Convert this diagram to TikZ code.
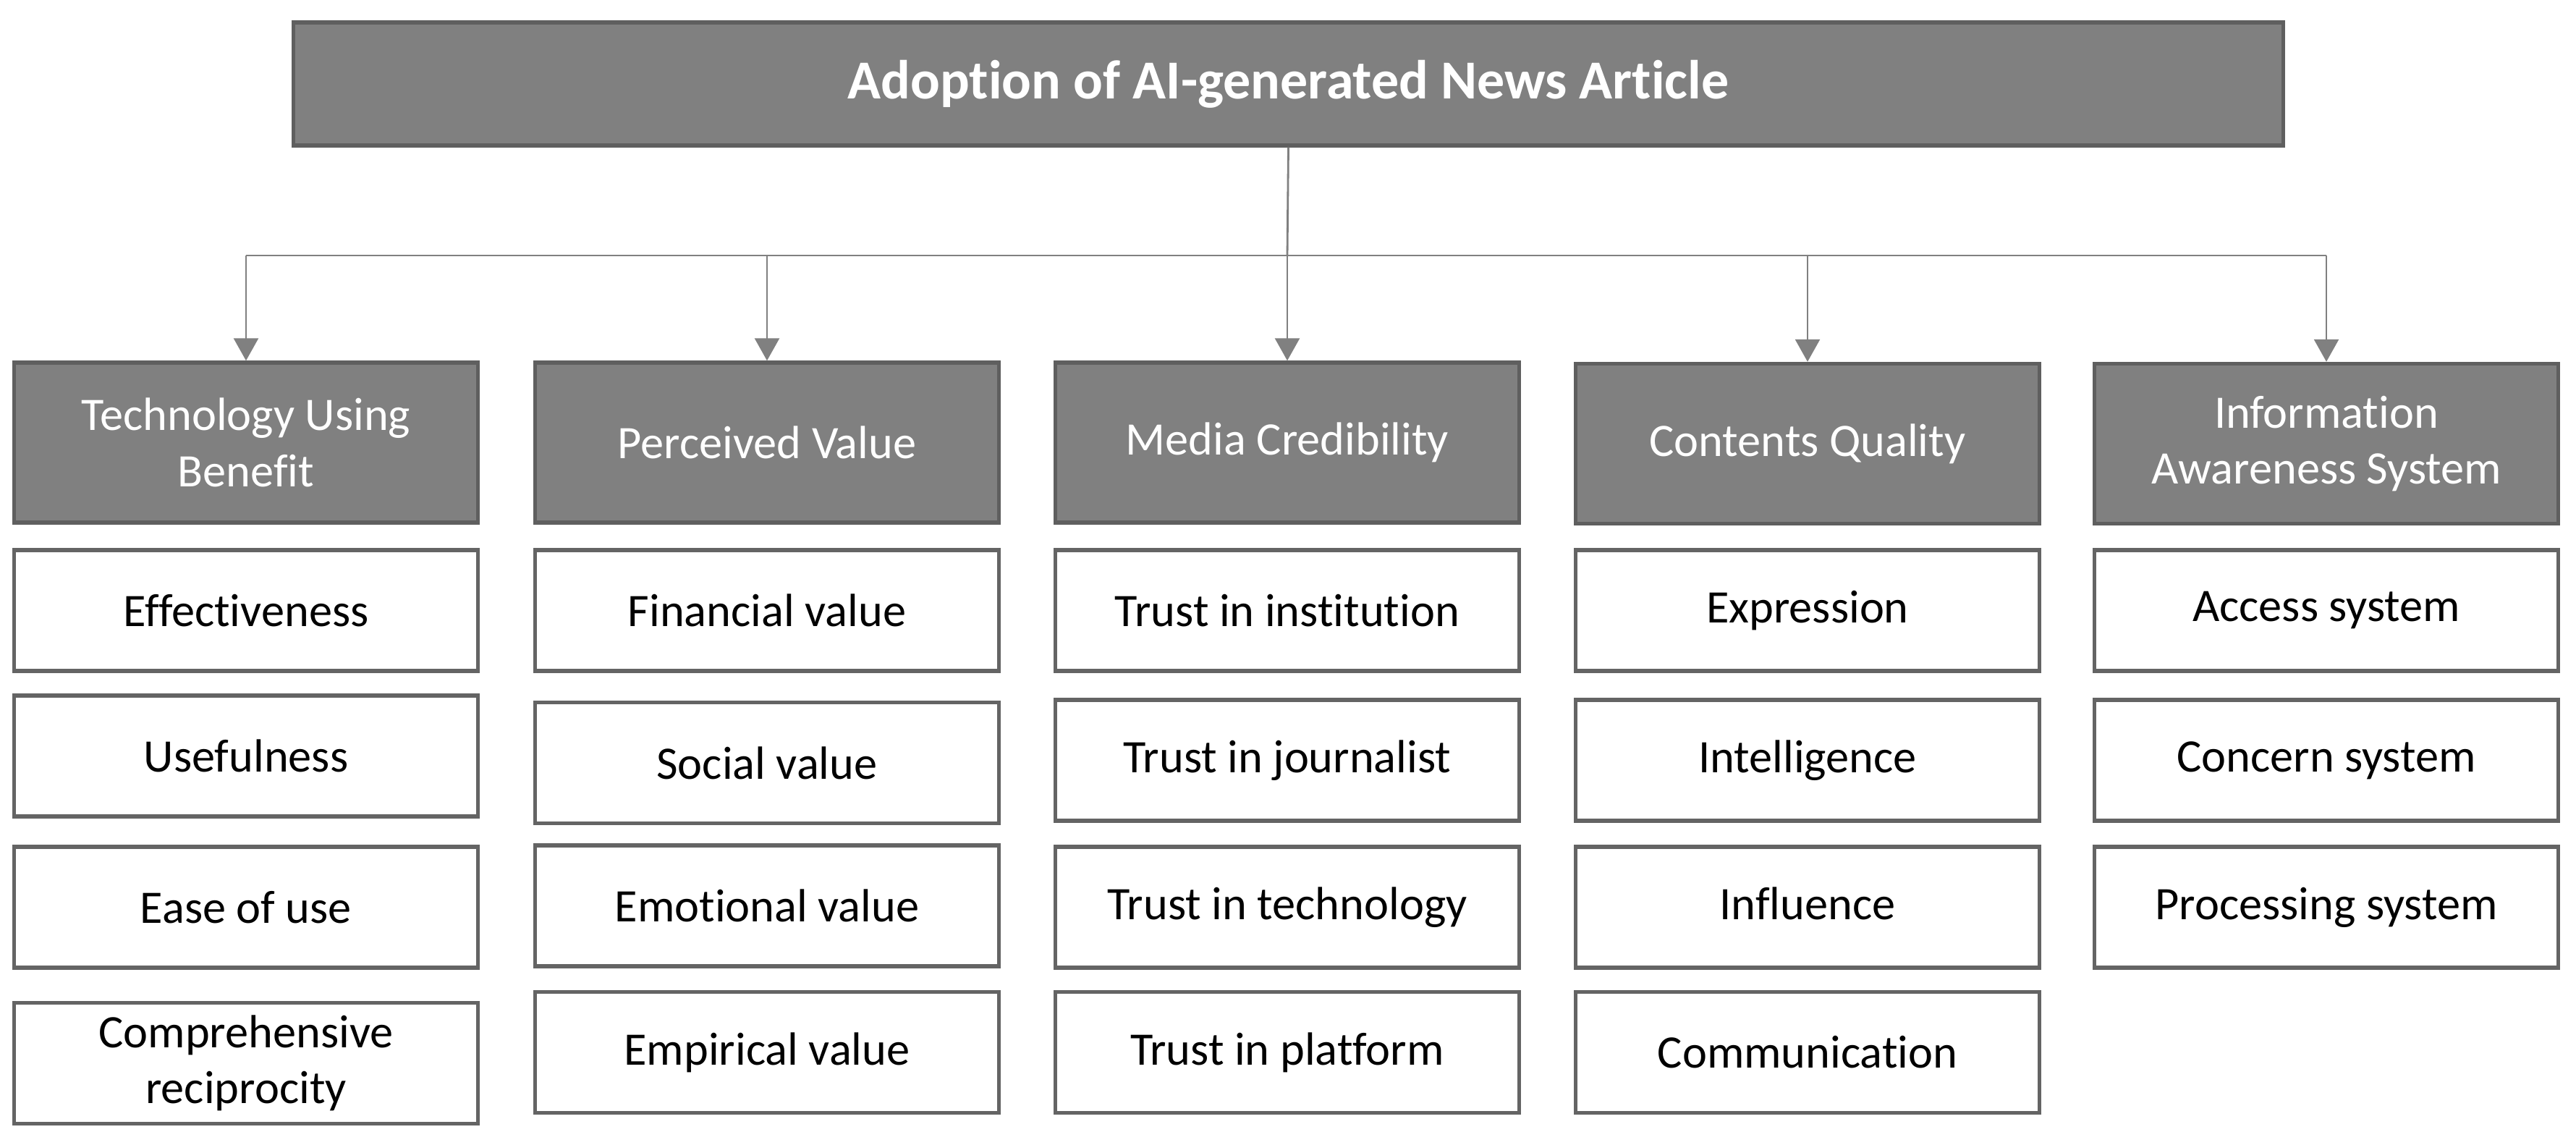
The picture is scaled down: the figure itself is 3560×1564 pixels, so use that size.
\documentclass[tikz,border=0pt]{standalone}
\usepackage{fontspec}
\setmainfont{Carlito}[Ligatures=NoCommon]
\usetikzlibrary{arrows.meta}
\definecolor{hdrfill}{HTML}{808080}
\definecolor{hdrline}{HTML}{5F5F5F}
\definecolor{boxline}{HTML}{646464}
\definecolor{connline}{HTML}{808080}
\begin{document}
\begin{tikzpicture}[x=0.01cm,y=-0.01cm,
  topbox/.style={draw=hdrline,fill=hdrfill,line width=1.5pt,minimum width=27.49cm,minimum height=1.70cm,inner sep=0pt,
    text=white,font=\fontsize{21.6}{26}\selectfont\bfseries},
  catbox/.style={draw=hdrline,fill=hdrfill,line width=1.5pt,minimum width=6.40cm,minimum height=2.21cm,inner sep=0pt,
    text=white,align=center,font=\fontsize{18.3}{22}\selectfont},
  itembox/.style={draw=boxline,fill=white,line width=1.5pt,minimum width=6.40cm,minimum height=1.67cm,inner sep=0pt,
    text=black,align=center,font=\fontsize{18.3}{22}\selectfont},
  conn/.style={draw=connline,line width=0.8pt},
  arr/.style={conn,-{Triangle[length=0.31cm,width=0.34cm]}}
]
\useasboundingbox (0,0) rectangle (3560,1564);

\node[topbox] (top) at (1780.5,116) {Adoption of AI-generated News Article};

\node[catbox] (c1) at (340,611.5) {Technology Using\\Benefit};
\node[catbox] (c2) at (1060,611.5) {Perceived Value};
\node[catbox] (c3) at (1779,611.5) {Media Credibility};
\node[catbox] (c4) at (2498,613) {Contents Quality};
\node[catbox] (c5) at (3215,613) {Information\\Awareness System};

% column 1
\node[itembox] (a1) at (340,843.5) {Effectiveness};
\node[itembox] (a2) at (340,1044.5) {Usefulness};
\node[itembox] (a3) at (340,1253.5) {Ease of use};
\node[itembox] (a4) at (340,1469) {Comprehensive\\reciprocity};
% column 2
\node[itembox] (b1) at (1060,843.5) {Financial value};
\node[itembox] (b2) at (1060,1054) {Social value};
\node[itembox] (b3) at (1060,1251.5) {Emotional value};
\node[itembox] (b4) at (1060,1454) {Empirical value};
% column 3
\node[itembox] (m1) at (1779,843.5) {Trust in institution};
\node[itembox] (m2) at (1779,1050.5) {Trust in journalist};
\node[itembox] (m3) at (1779,1253.5) {Trust in technology};
\node[itembox] (m4) at (1779,1454) {Trust in platform};
% column 4
\node[itembox] (q1) at (2498,843.5) {Expression\vphantom{y}};
\node[itembox] (q2) at (2498,1050.5) {Intelligence};
\node[itembox] (q3) at (2498,1253.5) {Influence\vphantom{y}};
\node[itembox] (q4) at (2498,1454) {Communication};
% column 5
\node[itembox] (s1) at (3215,843.5) {Access system};
\node[itembox] (s2) at (3215,1050.5) {Concern system};
\node[itembox] (s3) at (3215,1253.5) {Processing system};

% connectors
\coordinate (bus) at (1779,353);
\draw[conn] (top.south) -- (bus);
\draw[conn] (bus -| c1.north) -- (bus -| c5.north);
\foreach \c in {c1,c2,c3,c4,c5}{
  \draw[arr] (bus -| \c.north) -- (\c.north);
}
\end{tikzpicture}
\end{document}
